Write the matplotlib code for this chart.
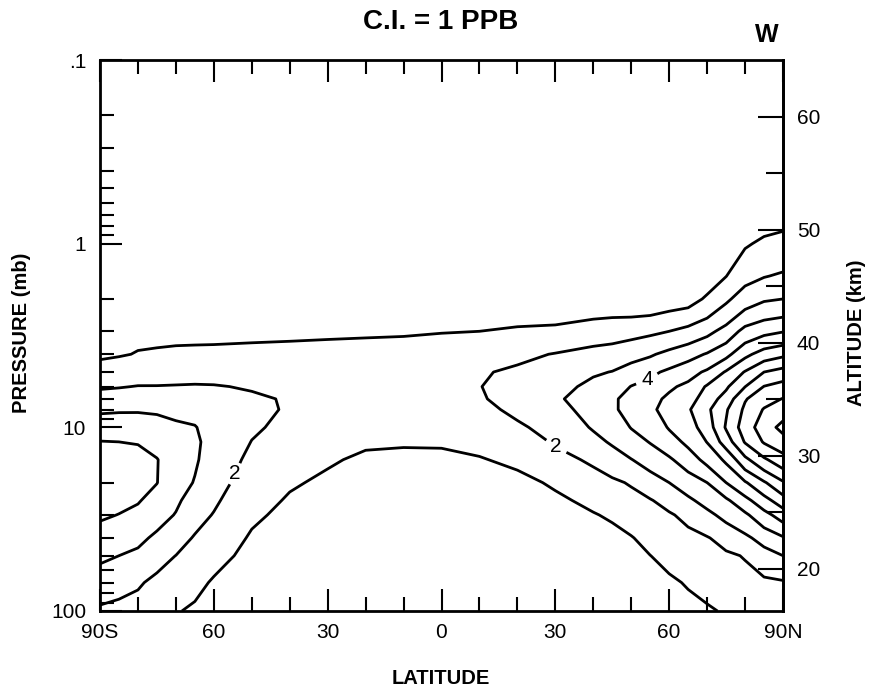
import numpy as np
import matplotlib
matplotlib.use("Agg")
import matplotlib.pyplot as plt
from matplotlib.ticker import FixedLocator, MultipleLocator, NullFormatter, LogLocator, FormatStrFormatter

plt.rcParams['font.family'] = ['Liberation Sans', 'DejaVu Sans']

# grid: latitude columns, pressure rows (mb), values in ppb
lats = [-90, -85, -80, -75, -70, -65, -60, -50, -40, -30, -20, -10, 0, 10, 20,
        30, 40, 45, 50, 55, 60, 65, 70, 75, 80, 85, 90]
pressure = [100, 70, 50, 40, 30, 25, 20, 15, 12, 10, 8, 7, 6, 5, 4, 3, 2, 1.5, 1, 0.7, 0.5, 0.2, 0.1]
ppb = [
    # 100 mb
    [1.84, 1.73, 1.66, 1.46, 1.07, 0.85, 0.6, 0.4, 0.35, 0.3, 0.3, 0.3, 0.3, 0.3, 0.35,
     0.4, 0.45, 0.45, 0.5, 0.55, 0.6, 0.7, 0.88, 1.1, 1.42, 1.41, 1.3],
    # 70
    [2.51, 2.32, 2.1, 1.8, 1.54, 1.25, 0.9, 0.55, 0.45, 0.4, 0.35, 0.35, 0.35, 0.35, 0.42,
     0.5, 0.55, 0.55, 0.65, 0.75, 0.85, 1.08, 1.3, 1.49, 1.72, 1.82, 1.9],
    # 50
    [3.18, 3.0, 2.8, 2.3, 1.99, 1.65, 1.29, 0.75, 0.55, 0.5, 0.45, 0.42, 0.42, 0.42, 0.5,
     0.6, 0.65, 0.65, 0.8, 0.99, 1.26, 1.48, 1.68, 1.86, 2.05, 2.59, 3.0],
    # 40
    [3.63, 3.43, 3.23, 2.82, 2.4, 1.92, 1.57, 0.9, 0.65, 0.6, 0.5, 0.47, 0.47, 0.47, 0.55,
     0.7, 0.75, 0.75, 0.95, 1.29, 1.54, 1.75, 1.94, 2.33, 2.79, 3.38, 3.9],
    # 30
    [4.12, 3.98, 3.77, 3.36, 2.95, 2.34, 1.95, 1.14, 0.8, 0.7, 0.6, 0.55, 0.55, 0.55, 0.62,
     0.8, 0.95, 1.11, 1.4, 1.69, 1.9, 2.24, 2.76, 3.29, 3.82, 4.67, 5.46],
    # 25
    [4.33, 4.21, 4.07, 3.67, 3.16, 2.61, 2.15, 1.3, 0.92, 0.78, 0.67, 0.62, 0.62, 0.62, 0.68,
     0.85, 1.19, 1.43, 1.69, 1.94, 2.33, 2.83, 3.33, 3.83, 4.7, 5.63, 6.58],
    # 20
    [4.6, 4.5, 4.35, 4.02, 3.38, 2.95, 2.4, 1.5, 1.08, 0.88, 0.75, 0.72, 0.72, 0.75, 0.78,
     1.11, 1.6, 1.83, 2.09, 2.55, 3.0, 3.49, 4.0, 5.0, 5.89, 6.88, 7.88],
    # 15
    [4.28, 4.28, 4.24, 4.03, 3.58, 3.1, 2.62, 1.77, 1.35, 1.07, 0.9, 0.88, 0.9, 0.95, 1.16,
     1.68, 2.16, 2.54, 2.97, 3.41, 3.86, 4.51, 5.3, 6.18, 7.75, 8.84, 9.63],
    # 12
    [4.03, 4.0, 3.96, 3.74, 3.32, 3.15, 2.68, 1.98, 1.6, 1.25, 1.08, 1.05, 1.05, 1.2, 1.55,
     2.09, 2.72, 3.12, 3.59, 4.05, 4.59, 5.22, 6.03, 7.48, 9.08, 10.09, 10.6],
    # 10
    [3.53, 3.53, 3.5, 3.37, 3.14, 3.05, 2.6, 2.12, 1.78, 1.42, 1.28, 1.22, 1.22, 1.45, 1.86,
     2.33, 3.09, 3.45, 4.04, 4.38, 5.08, 5.57, 6.47, 8.1, 9.5, 10.5, 11.3],
    # 8
    [2.85, 2.9, 2.91, 2.87, 2.79, 2.67, 2.4, 2.2, 1.92, 1.58, 1.45, 1.38, 1.42, 1.75, 2.2,
     2.64, 3.39, 3.85, 4.33, 4.79, 5.4, 5.88, 6.8, 7.89, 9.19, 10.07, 10.53],
    # 7
    [2.39, 2.45, 2.5, 2.48, 2.45, 2.39, 2.25, 2.12, 1.93, 1.62, 1.5, 1.45, 1.5, 1.9, 2.38,
     2.84, 3.52, 3.87, 4.28, 4.71, 5.18, 5.57, 6.48, 7.4, 8.92, 9.61, 10.04],
    # 6
    [1.89, 1.95, 2.03, 2.03, 2.05, 2.07, 2.05, 1.93, 1.85, 1.6, 1.5, 1.45, 1.5, 1.97, 2.41,
     2.65, 3.25, 3.49, 4.03, 4.33, 4.85, 5.22, 6.11, 6.84, 7.98, 9.03, 9.37],
    # 5
    [1.38, 1.49, 1.58, 1.6, 1.64, 1.67, 1.68, 1.62, 1.65, 1.48, 1.4, 1.38, 1.42, 1.9, 2.17,
     2.37, 2.88, 3.03, 3.41, 3.79, 4.19, 4.62, 5.16, 6.1, 7.07, 8.0, 8.39],
    # 4
    [0.85, 0.93, 1.04, 1.09, 1.15, 1.17, 1.21, 1.23, 1.3, 1.25, 1.2, 1.2, 1.25, 1.5, 1.77,
     2.05, 2.34, 2.44, 2.65, 2.88, 3.28, 3.63, 4.08, 4.71, 5.74, 6.44, 6.78],
    # 3
    [0.8, 0.8, 0.82, 0.8, 0.78, 0.78, 0.75, 0.8, 0.8, 0.88, 0.93, 0.95, 0.98, 1.0, 1.05,
     1.15, 1.44, 1.54, 1.67, 1.82, 2.0, 2.31, 2.72, 3.35, 4.33, 4.72, 4.95],
    # 2
    [0.75, 0.75, 0.75, 0.72, 0.72, 0.72, 0.7, 0.75, 0.75, 0.8, 0.82, 0.84, 0.85, 0.8, 0.75,
     0.5, 0.4, 0.4, 0.3, 0.3, 0.5, 0.6, 1.14, 1.82, 2.48, 2.88, 3.0],
    # 1.5
    [0.7, 0.7, 0.7, 0.68, 0.68, 0.68, 0.65, 0.7, 0.7, 0.7, 0.72, 0.74, 0.75, 0.72, 0.65,
     0.45, 0.38, 0.38, 0.25, 0.25, 0.4, 0.45, 0.5, 0.98, 1.68, 1.95, 2.12],
    # 1
    [0.6, 0.6, 0.6, 0.6, 0.6, 0.6, 0.6, 0.6, 0.6, 0.6, 0.62, 0.64, 0.65, 0.65, 0.6,
     0.45, 0.38, 0.35, 0.25, 0.25, 0.35, 0.35, 0.4, 0.55, 0.9, 1.16, 1.32],
    # 0.7
    [0.5, 0.5, 0.5, 0.5, 0.5, 0.5, 0.5, 0.5, 0.5, 0.5, 0.5, 0.5, 0.5, 0.5, 0.5,
     0.4, 0.35, 0.32, 0.25, 0.25, 0.3, 0.3, 0.35, 0.38, 0.45, 0.6, 0.65],
    # 0.5
    [0.4, 0.4, 0.4, 0.4, 0.4, 0.4, 0.4, 0.4, 0.4, 0.4, 0.4, 0.4, 0.4, 0.4, 0.4,
     0.35, 0.3, 0.28, 0.22, 0.22, 0.25, 0.25, 0.28, 0.28, 0.3, 0.35, 0.4],
    # 0.2
    [0.2] * 27,
    # 0.1
    [0.1] * 27,
]
levels = [1, 2, 3, 4, 5, 6, 7, 8, 9, 10, 11]

lat_ticks = [-90, -60, -30, 0, 30, 60, 90]
lat_labels = ["90S", "60", "30", "0", "30", "60", "90N"]
p_ticks = [0.1, 1, 10, 100]
p_labels = [".1", "1", "10", "100"]
z_ticks = [20, 30, 40, 50, 60]
z_minor = [25, 35, 45, 55]


def p2z(p):
    p = np.clip(np.asarray(p, dtype=float), 1e-6, None)
    return 16.26 * (3 - np.log10(p))


def z2p(z):
    return 10 ** (3 - np.asarray(z, dtype=float) / 16.26)


fig = plt.figure(figsize=(8.73, 6.91), dpi=100)
ax = fig.add_axes([100 / 873, 1 - 611 / 691, 683 / 873, 551 / 691])

cs = ax.contour(lats, pressure, np.array(ppb), levels=levels, colors="black", linewidths=2.0)

ax.set_yscale("log")
ax.set_ylim(100, 0.1)
ax.set_xlim(-90, 90)

# labels: "2" on the southern lobe, "2" and "4" on the northern ridge
labels = ax.clabel(cs, manual=[(-53.6, 18.2), (30.4, 12.5), (54.2, 5.5)], fmt="%d",
                   fontsize=15, inline=True, inline_spacing=6)
for t in labels:
    t.set_rotation(0)

ax.set_xticks(lat_ticks)
ax.set_xticklabels(lat_labels)
ax.xaxis.set_minor_locator(MultipleLocator(10))
ax.yaxis.set_major_locator(FixedLocator(p_ticks))
ax.set_yticklabels(p_labels)
ax.yaxis.set_minor_locator(LogLocator(base=10, subs=np.arange(2, 10)))
ax.yaxis.set_minor_formatter(NullFormatter())

ax.tick_params(axis="x", which="both", direction="in", top=True, bottom=True,
               labelsize=15, pad=9)
ax.tick_params(axis="y", which="both", direction="in", left=True, right=False,
               labelsize=15, pad=10)
ax.tick_params(which="major", length=16, width=1.5)
ax.tick_params(which="minor", length=10, width=1.5)
for s in ax.spines.values():
    s.set_linewidth(2)

# altitude scale on the right
sec = ax.secondary_yaxis("right", functions=(p2z, z2p))
sec.yaxis.set_major_locator(FixedLocator(z_ticks))
sec.yaxis.set_major_formatter(FormatStrFormatter("%d"))
sec.yaxis.set_minor_locator(FixedLocator(z_minor))
sec.yaxis.set_minor_formatter(NullFormatter())
sec.tick_params(which="both", direction="in", labelsize=15, pad=10)
sec.tick_params(which="major", length=18, width=1.5)
sec.tick_params(which="minor", length=12, width=1.5)
sec.spines["right"].set_linewidth(2)

fig.text(441 / 873, 1 - 22 / 691, "C.I. = 1 PPB", ha="center", va="center",
         fontsize=20, fontweight="bold")
fig.text(767 / 873, 1 - 35 / 691, "W", ha="center", va="center",
         fontsize=18, fontweight="bold")
fig.text(441 / 873, 1 - 678 / 691, "LATITUDE", ha="center", va="center",
         fontsize=14.5, fontweight="bold")
fig.text(22 / 873, 1 - 333 / 691, "PRESSURE (mb)", ha="center", va="center",
         rotation=90, fontsize=14.5, fontweight="bold")
fig.text(857 / 873, 1 - 333 / 691, "ALTITUDE (km)", ha="center", va="center",
         rotation=90, fontsize=14.5, fontweight="bold")

fig.savefig("out.png", dpi=100)
